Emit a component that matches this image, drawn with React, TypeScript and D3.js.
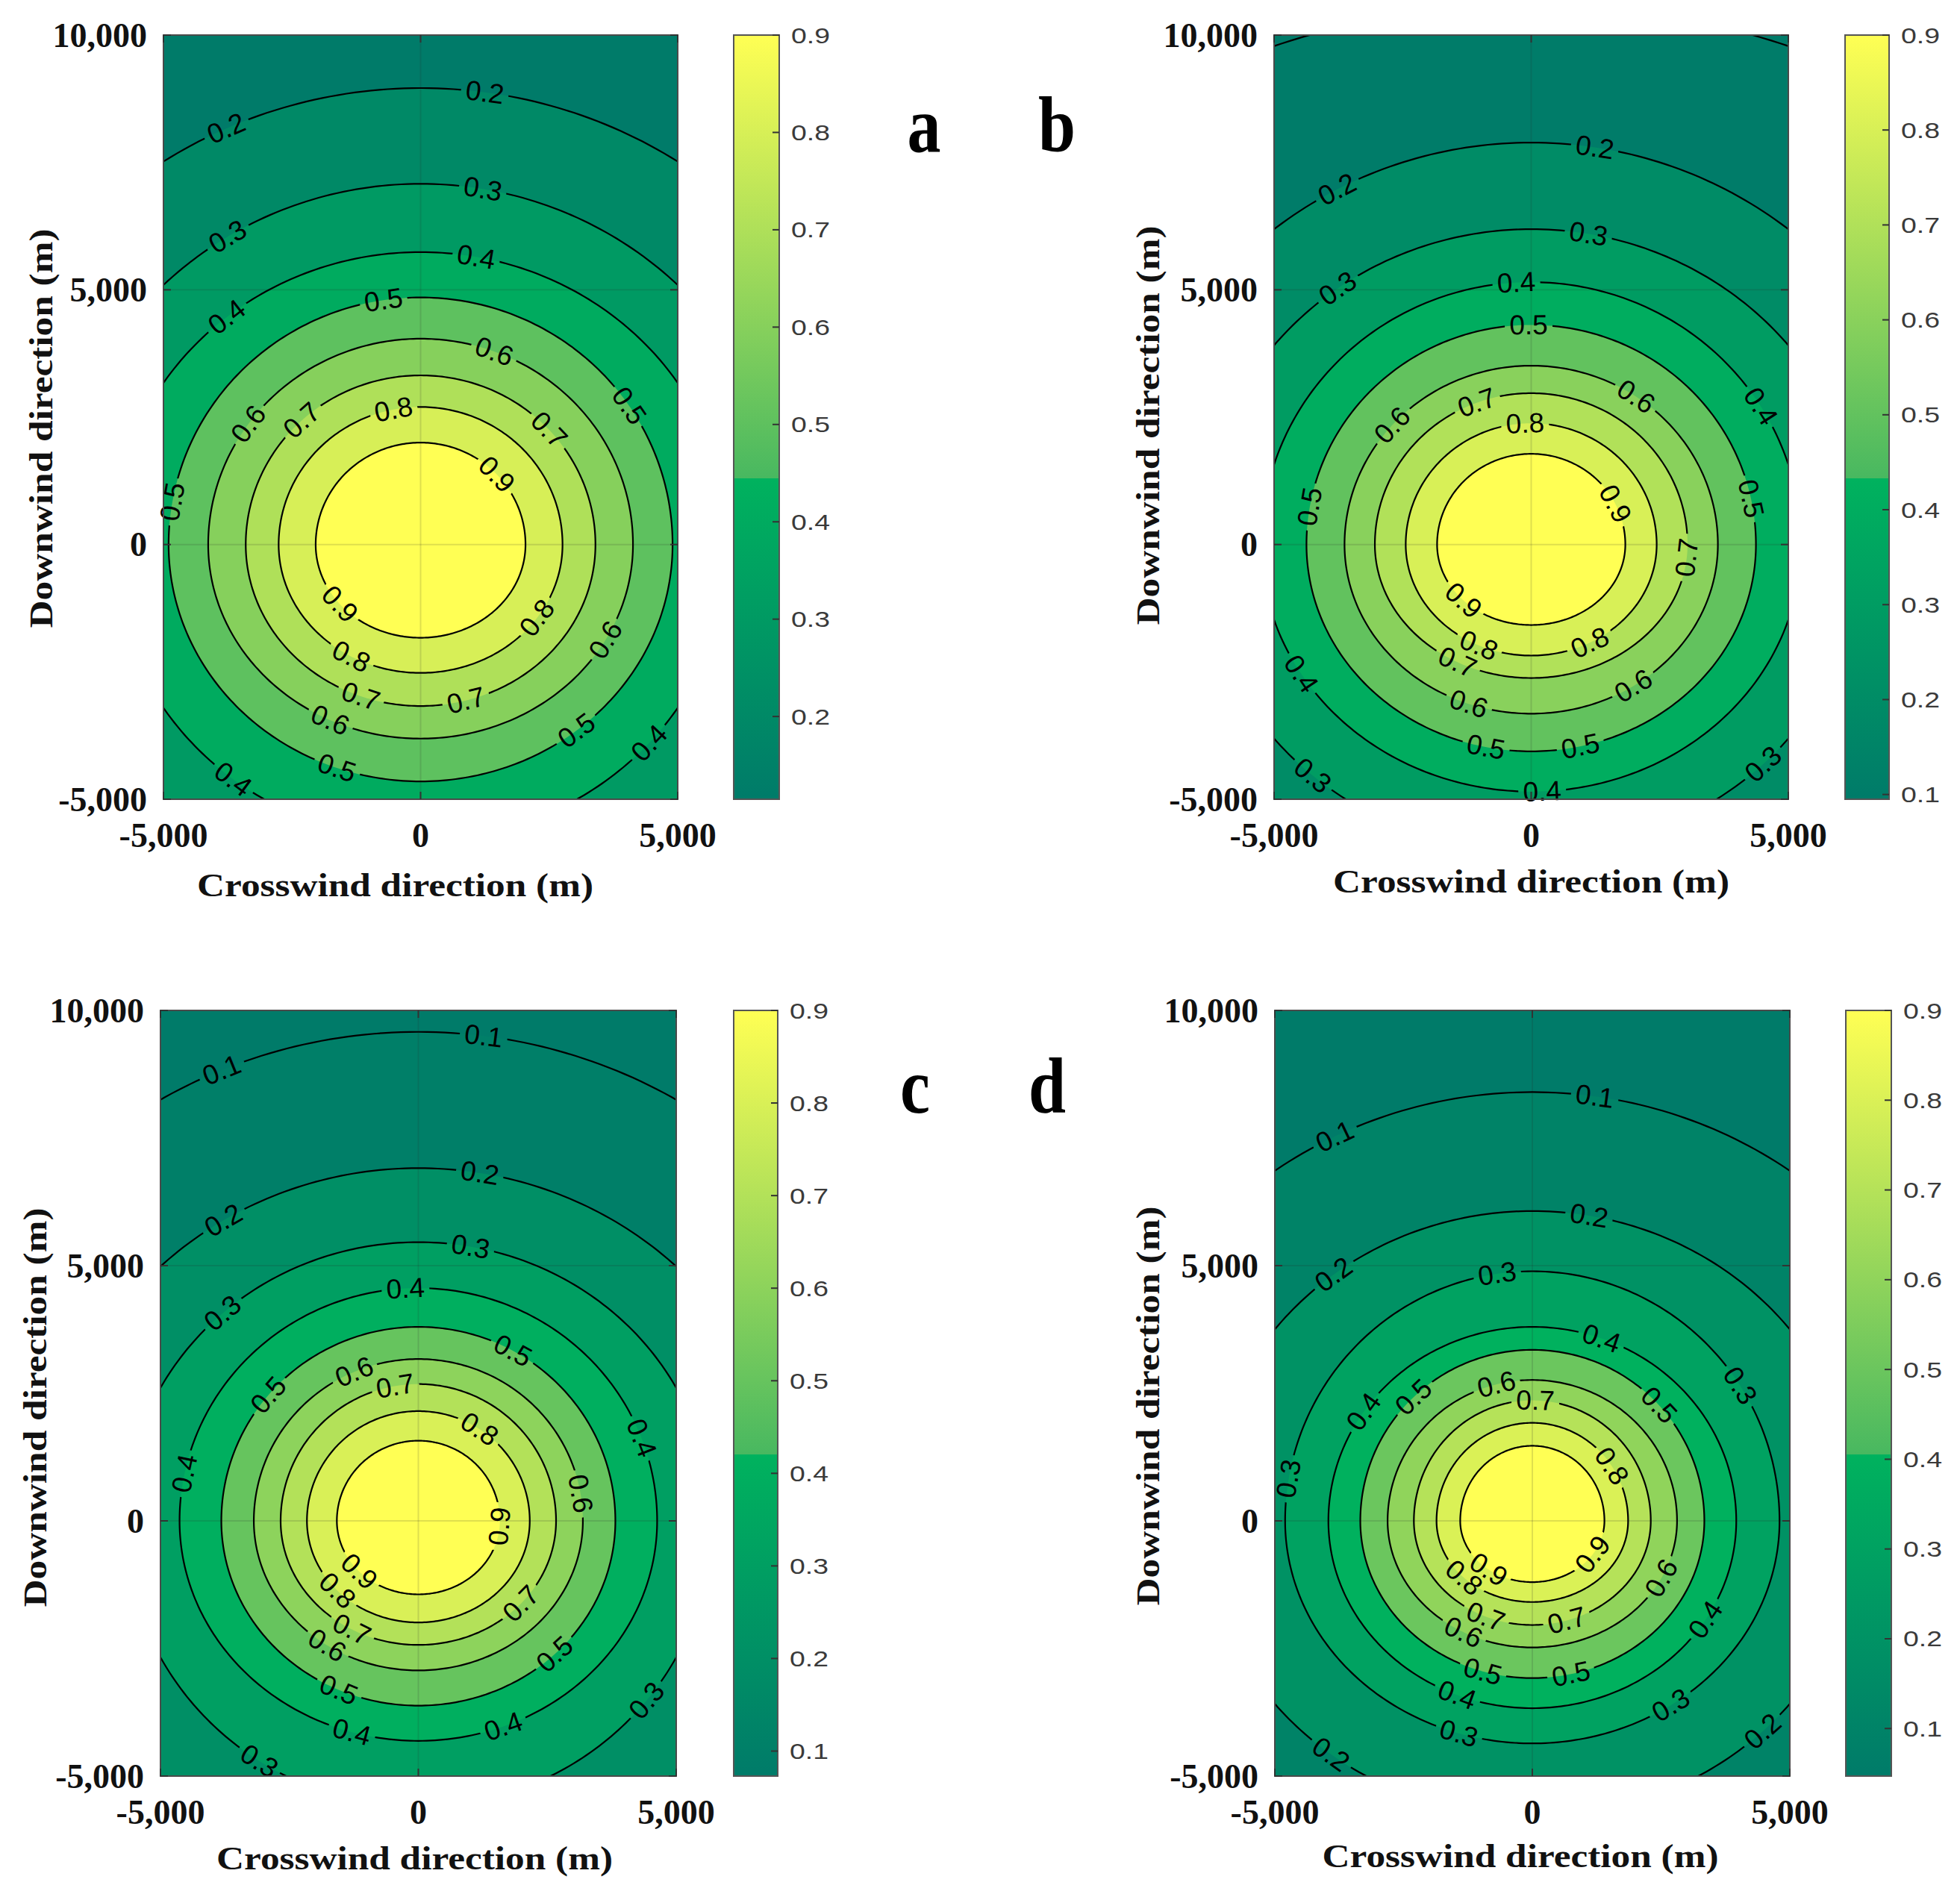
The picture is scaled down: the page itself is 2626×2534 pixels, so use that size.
import { useMemo } from "react";
import * as d3 from "d3";

const W = 2626;
const H = 2534;

// contour levels with their reach (m):
// half width along the crosswind axis, reach upward and downward along the downwind axis
const levelsA = [0.2, 0.3, 0.4, 0.5, 0.6, 0.7, 0.8, 0.9];
const halfWidthA = [9190, 7200, 6000, 4900, 4130, 3400, 2760, 2040];
const reachUpA = [8960, 7080, 5740, 4850, 4040, 3320, 2700, 2000];
const reachDownA = [9000, 7300, 5800, 4650, 3810, 3170, 2520, 1830];
const rangeA = [0.115, 0.9];
const labelsA = [
  [0.2, 1240, 8810], [0.2, -3780, 8170],
  [0.3, 1210, 6980], [0.3, -3780, 6090],
  [0.4, 1100, 5740], [0.4, -3840, 4550], [0.4, -3640, -4600], [0.4, 4290, -3760],
  [0.5, -730, 4850], [0.5, 4050, 2720], [0.5, -4830, 840], [0.5, -1670, -4500], [0.5, 3040, -3660],
  [0.6, 1440, 3810], [0.6, -3370, 2380], [0.6, -1840, -3610], [0.6, 3610, -1880],
  [0.7, -2350, 2480], [0.7, 2530, 2280], [0.7, -1200, -3070], [0.7, 900, -3120],
  [0.8, -520, 2620], [0.8, -1400, -2280], [0.8, 2260, -1440],
  [0.9, 1440, 1340], [0.9, -1600, -1190],
];

const levelsB = [0.1, 0.2, 0.3, 0.4, 0.5, 0.6, 0.7, 0.8, 0.9];
const halfWidthB = [13000, 8060, 6450, 5250, 4370, 3630, 3040, 2440, 1830];
const reachUpB = [10600, 7890, 6190, 5150, 4310, 3510, 2970, 2380, 1780];
const reachDownB = [10000, 7600, 6030, 4850, 4060, 3320, 2620, 2180, 1580];
const rangeB = [0.095, 0.9];
const labelsB = [
  [0.2, 1240, 7820], [0.2, -3780, 6980],
  [0.3, 1130, 6190], [0.3, -3780, 5050], [0.3, -4220, -4500], [0.3, 4460, -4260],
  [0.4, -290, 5150], [0.4, 4390, 2670], [0.4, -4530, -2570], [0.4, 220, -4980],
  [0.5, -50, 4310], [0.5, -4290, 740], [0.5, 4220, 890], [0.5, -900, -4060], [0.5, 970, -4010],
  [0.6, -2800, 2430], [0.6, 2050, 2920], [0.6, -1270, -3270], [0.6, 2020, -2820],
  [0.7, -1070, 2820], [0.7, 2930, -250], [0.7, -1540, -2480],
  [0.8, -120, 2380], [0.8, -1070, -2080], [0.8, 1170, -1980],
  [0.9, 1610, 790], [0.9, -1370, -1140],
];

const levelsC = [0.1, 0.2, 0.3, 0.4, 0.5, 0.6, 0.7, 0.8, 0.9];
const halfWidthC = [9840, 7220, 5690, 4630, 3820, 3190, 2670, 2160, 1580];
const reachUpC = [9580, 6910, 5460, 4560, 3800, 3170, 2680, 2150, 1570];
const reachDownC = [9500, 7100, 5600, 4310, 3620, 2930, 2430, 1990, 1440];
const rangeC = [0.073, 0.9];
const labelsC = [
  [0.1, 1270, 9530], [0.1, -3800, 8800],
  [0.2, 1200, 6860], [0.2, -3800, 5920],
  [0.3, 1030, 5460], [0.3, -3860, 4140], [0.3, -2990, -4560], [0.3, 4240, -3370],
  [0.4, -250, 4560], [0.4, -4540, 930], [0.4, 4180, 1570], [0.4, -1330, -4260], [0.4, 1680, -4110],
  [0.5, 1840, 3350], [0.5, -3020, 2560], [0.5, -1570, -3370], [0.5, 2660, -2630],
  [0.6, -1260, 2960], [0.6, 3130, 530], [0.6, -1870, -2580],
  [0.7, -450, 2660], [0.7, 1950, -1590], [0.7, -1330, -2190],
  [0.8, 1200, 1820], [0.8, -1600, -1390],
  [0.9, 1470, -100], [0.9, -1160, -1000],
];

const levelsD = [0.1, 0.2, 0.3, 0.4, 0.5, 0.6, 0.7, 0.8, 0.9];
const halfWidthD = [8660, 6360, 4800, 3960, 3340, 2810, 2300, 1860, 1400];
const reachUpD = [8400, 6070, 4890, 3800, 3350, 2760, 2360, 1920, 1470];
const reachDownD = [8000, 5800, 4360, 3670, 3080, 2480, 2040, 1590, 1200];
const rangeD = [0.047, 0.9];
const labelsD = [
  [0.1, 1210, 8300], [0.1, -3800, 7460],
  [0.2, 1110, 6020], [0.2, -3830, 4790], [0.2, -3900, -4560], [0.2, 4360, -4020],
  [0.3, -690, 4890], [0.3, 4050, 2660], [0.3, -4750, 830], [0.3, -1530, -4460], [0.3, 2770, -3720],
  [0.4, 1410, 3750], [0.4, -3400, 2220], [0.4, 3370, -1940], [0.4, -1530, -3570],
  [0.5, -2340, 2460], [0.5, 2460, 2270], [0.5, -990, -3030], [0.5, 770, -3080],
  [0.6, -720, 2760], [0.6, 2460, -1100], [0.6, -1400, -2280],
  [0.7, 60, 2360], [0.7, 700, -2040], [0.7, -960, -1990],
  [0.8, 1550, 1080], [0.8, -1430, -1200],
  [0.9, 1070, -600], [0.9, -890, -1000],
];

const xTicks = [-5000, 0, 5000];
const xTickLabels = ["-5,000", "0", "5,000"];
const yTicks = [-5000, 0, 5000, 10000];
const yTickLabels = ["-5,000", "0", "5,000", "10,000"];
const cbTicks = [0.1, 0.2, 0.3, 0.4, 0.5, 0.6, 0.7, 0.8, 0.9];

// colormap (fraction of colour range), with a break near 0.42
const KINK = 0.42;
const lowCol = d3.interpolateRgb("#007b69", "#00b25e");
const highCol = d3.interpolateRgb("#48b860", "#ffff54");
const cmap = (t: number) =>
  t <= KINK ? lowCol(Math.max(0, t) / KINK) : highCol(Math.min(1, (t - KINK) / (1 - KINK)));

const SERIF = "'Liberation Serif', 'Times New Roman', serif";
const SANS = "'Liberation Sans', Arial, Helvetica, sans-serif";

const panels = [
  {
    id: "a", levels: levelsA, hw: halfWidthA, up: reachUpA, dn: reachDownA, range: rangeA, labels: labelsA,
    box: { left: 219, right: 908, top: 47, bottom: 1071 }, cb: [983, 1044],
    letter: [1238, 203], xTitle: [-34, 130], yTitle: [55, 15],
  },
  {
    id: "b", levels: levelsB, hw: halfWidthB, up: reachUpB, dn: reachDownB, range: rangeB, labels: labelsB,
    box: { left: 1707, right: 2396, top: 47, bottom: 1071 }, cb: [2472, 2531],
    letter: [1416, 203], xTitle: [0, 125], yTitle: [1538, 11],
  },
  {
    id: "c", levels: levelsC, hw: halfWidthC, up: reachUpC, dn: reachDownC, range: rangeC, labels: labelsC,
    box: { left: 215, right: 906, top: 1354, bottom: 2380 }, cb: [983, 1042],
    letter: [1226, 1491], xTitle: [-5, 125], yTitle: [47, 19],
  },
  {
    id: "d", levels: levelsD, hw: halfWidthD, up: reachUpD, dn: reachDownD, range: rangeD, labels: labelsD,
    box: { left: 1708, right: 2398, top: 1354, bottom: 2380 }, cb: [2473, 2534],
    letter: [1403, 1491], xTitle: [-16, 122], yTitle: [1538, 17],
  },
];

function ring(rx: number, up: number, dn: number, n = 360) {
  return d3.range(n).map((i) => {
    const a = (i / n) * 2 * Math.PI;
    const s = Math.sin(a);
    return [rx * Math.cos(a), (s >= 0 ? up : dn) * s];
  });
}

function Panel({ p }: { p: (typeof panels)[number] }) {
  const { box } = p;
  const x = d3.scaleLinear().domain([-5000, 5000]).range([box.left, box.right]);
  const y = d3.scaleLinear().domain([-5000, 10000]).range([box.bottom, box.top]);
  const kx = (box.right - box.left) / 10000;
  const ky = (box.bottom - box.top) / 15000;
  const line = d3
    .line<number[]>()
    .x((d) => x(d[0]))
    .y((d) => y(d[1]))
    .curve(d3.curveLinearClosed);

  const [cmin, cmax] = p.range;
  const tOf = (v: number) => (v - cmin) / (cmax - cmin);
  const cy = d3.scaleLinear().domain([cmin, cmax]).range([box.bottom, box.top]);

  const rings = p.levels.map((lv, i) => ({
    lv,
    d: line(ring(p.hw[i], p.up[i], p.dn[i])) as string,
    fill: cmap(tOf(lv)),
  }));

  const labels = p.labels.map(([lv, lx, ly]) => {
    const i = p.levels.indexOf(lv);
    const rx = p.hw[i];
    const R = ly >= 0 ? p.up[i] : p.dn[i];
    const a = Math.atan2(ly / R, lx / rx);
    const px = rx * Math.cos(a);
    const py = R * Math.sin(a);
    const tx = -rx * Math.sin(a) * kx;
    const ty = -R * Math.cos(a) * ky;
    let ang = (Math.atan2(ty, tx) * 180) / Math.PI;
    if (ang > 90) ang -= 180;
    if (ang < -90) ang += 180;
    return { lv, sx: x(px), sy: y(py), ang };
  });

  const clipId = `clip-${p.id}`;
  const maskId = `mask-${p.id}`;
  const gradId = `grad-${p.id}`;
  const tickLen = 10;
  const cx = (box.left + box.right) / 2;
  const cyMid = (box.top + box.bottom) / 2;

  return (
    <g>
      <defs>
        <clipPath id={clipId}>
          <rect x={box.left} y={box.top} width={box.right - box.left} height={box.bottom - box.top} />
        </clipPath>
        <mask id={maskId} maskUnits="userSpaceOnUse" x={0} y={0} width={W} height={H}>
          <rect x={0} y={0} width={W} height={H} fill="white" />
          {labels.map((l, i) => (
            <rect
              key={i}
              x={-32}
              y={-16}
              width={64}
              height={32}
              fill="black"
              transform={`translate(${l.sx},${l.sy}) rotate(${l.ang})`}
            />
          ))}
        </mask>
        <linearGradient id={gradId} x1="0" y1="1" x2="0" y2="0">
          <stop offset="0" stopColor={cmap(0)} />
          <stop offset={KINK} stopColor={cmap(KINK)} />
          <stop offset={KINK} stopColor={cmap(KINK + 0.0001)} />
          <stop offset="1" stopColor={cmap(1)} />
        </linearGradient>
      </defs>

      {/* filled bands */}
      <g clipPath={`url(#${clipId})`}>
        <rect x={box.left} y={box.top} width={box.right - box.left} height={box.bottom - box.top} fill={cmap(0)} />
        {rings.map((r) => (
          <path key={r.lv} d={r.d} fill={r.fill} />
        ))}
        {/* grid */}
        {xTicks.map((t) => (
          <line key={`gx${t}`} x1={x(t)} x2={x(t)} y1={box.top} y2={box.bottom} stroke="#262626" strokeOpacity={0.15} strokeWidth={2} />
        ))}
        {yTicks.map((t) => (
          <line key={`gy${t}`} x1={box.left} x2={box.right} y1={y(t)} y2={y(t)} stroke="#262626" strokeOpacity={0.15} strokeWidth={2} />
        ))}
        <g mask={`url(#${maskId})`}>
          {rings.map((r) => (
            <path key={r.lv} d={r.d} fill="none" stroke="#000" strokeWidth={2.2} />
          ))}
        </g>
      </g>

      {/* contour labels */}
      {labels.map((l, i) => (
        <text
          key={i}
          transform={`translate(${l.sx},${l.sy}) rotate(${l.ang})`}
          textAnchor="middle"
          dominantBaseline="central"
          fontFamily={SANS}
          fontSize={37}
          fill="#000"
        >
          {l.lv.toFixed(1)}
        </text>
      ))}

      {/* frame and ticks */}
      <rect x={box.left} y={box.top} width={box.right - box.left} height={box.bottom - box.top} fill="none" stroke="#4a4a4a" strokeWidth={2} />
      {xTicks.map((t) => (
        <g key={`tx${t}`} stroke="#333" strokeWidth={2}>
          <line x1={x(t)} x2={x(t)} y1={box.bottom} y2={box.bottom - tickLen} />
          <line x1={x(t)} x2={x(t)} y1={box.top} y2={box.top + tickLen} />
        </g>
      ))}
      {yTicks.map((t) => (
        <g key={`ty${t}`} stroke="#333" strokeWidth={2}>
          <line x1={box.left} x2={box.left + tickLen} y1={y(t)} y2={y(t)} />
          <line x1={box.right} x2={box.right - tickLen} y1={y(t)} y2={y(t)} />
        </g>
      ))}

      {/* tick labels */}
      {xTicks.map((t, i) => (
        <text key={`lx${t}`} x={x(t)} y={box.bottom + 64} textAnchor="middle" fontFamily={SERIF} fontWeight="bold" fontSize={46} fill="#111">
          {xTickLabels[i]}
        </text>
      ))}
      {yTicks.map((t, i) => (
        <text key={`ly${t}`} x={box.left - 22} y={y(t)} textAnchor="end" dominantBaseline="central" fontFamily={SERIF} fontWeight="bold" fontSize={46} fill="#111">
          {yTickLabels[i]}
        </text>
      ))}

      {/* axis titles */}
      <text
        x={cx + p.xTitle[0]}
        y={box.bottom + p.xTitle[1]}
        textAnchor="middle"
        fontFamily={SERIF}
        fontWeight="bold"
        fontSize={44}
        textLength={531}
        lengthAdjust="spacingAndGlyphs"
        fill="#111"
      >
        Crosswind direction (m)
      </text>
      <text
        transform={`translate(${p.yTitle[0]},${cyMid + p.yTitle[1]}) rotate(-90)`}
        textAnchor="middle"
        dominantBaseline="central"
        fontFamily={SERIF}
        fontWeight="bold"
        fontSize={44}
        textLength={535}
        lengthAdjust="spacingAndGlyphs"
        fill="#111"
      >
        Downwind direction (m)
      </text>

      {/* colorbar */}
      <rect x={p.cb[0]} y={box.top} width={p.cb[1] - p.cb[0]} height={box.bottom - box.top} fill={`url(#${gradId})`} stroke="#555" strokeWidth={2} />
      {cbTicks
        .filter((t) => t >= cmin - 0.002 && t <= cmax + 0.002)
        .map((t) => (
          <g key={`cb${t}`}>
            <line x1={p.cb[1] - 9} x2={p.cb[1]} y1={cy(t)} y2={cy(t)} stroke="#333" strokeWidth={2} />
            <text
              x={p.cb[1] + 16}
              y={cy(t)}
              dominantBaseline="central"
              fontFamily={SANS}
              fontSize={30}
              textLength={52}
              lengthAdjust="spacingAndGlyphs"
              fill="#3a3a3a"
            >
              {t.toFixed(1)}
            </text>
          </g>
        ))}

      {/* panel letter */}
      <text
        transform={`translate(${p.letter[0]},${p.letter[1]}) scale(1,1.18)`}
        textAnchor="middle"
        fontFamily={SERIF}
        fontWeight="bold"
        fontSize={90}
        fill="#000"
      >
        {p.id}
      </text>
    </g>
  );
}

export default function App() {
  const content = useMemo(() => panels.map((p) => <Panel key={p.id} p={p} />), []);
  return (
    <svg
      width={W}
      height={H}
      viewBox={`0 0 ${W} ${H}`}
      style={{ position: "absolute", left: 0, top: 0, background: "#fff" }}
    >
      <rect x={0} y={0} width={W} height={H} fill="#fff" />
      {content}
    </svg>
  );
}
